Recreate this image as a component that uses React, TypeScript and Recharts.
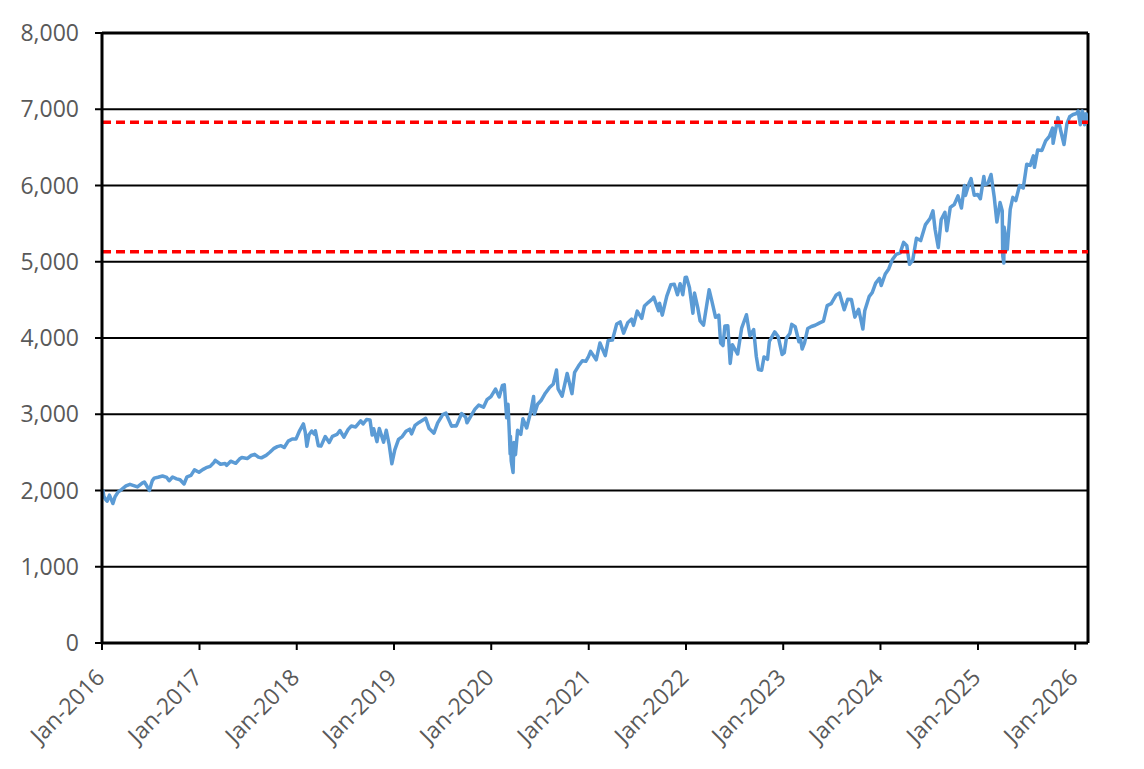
import { LineChart, Line, XAxis, YAxis, CartesianGrid, ReferenceLine } from 'recharts';

// approximate index closes
const dates = [
  '2016-01-04', '2016-01-08', '2016-01-15', '2016-01-20', '2016-01-29', '2016-02-11', '2016-02-19', '2016-03-01', '2016-03-15', '2016-03-31', '2016-04-15', '2016-04-29', '2016-05-13', '2016-05-31', '2016-06-08', '2016-06-15', '2016-06-27', '2016-07-08', '2016-07-15', '2016-07-29', '2016-08-15', '2016-08-31', '2016-09-09', '2016-09-22', '2016-10-07', '2016-10-20', '2016-11-04', '2016-11-15', '2016-11-30', '2016-12-13', '2016-12-30',
  '2017-01-13', '2017-01-26', '2017-02-10', '2017-02-24', '2017-03-01', '2017-03-21', '2017-04-07', '2017-04-13', '2017-04-28', '2017-05-17', '2017-05-31', '2017-06-09', '2017-06-29', '2017-07-14', '2017-07-27', '2017-08-10', '2017-08-21', '2017-09-08', '2017-09-22', '2017-10-06', '2017-10-20', '2017-11-03', '2017-11-15', '2017-11-30', '2017-12-15', '2017-12-29',
  '2018-01-12', '2018-01-26', '2018-02-02', '2018-02-08', '2018-02-16', '2018-02-26', '2018-03-08', '2018-03-12', '2018-03-23', '2018-04-02', '2018-04-18', '2018-05-03', '2018-05-15', '2018-06-01', '2018-06-12', '2018-06-27', '2018-07-13', '2018-07-25', '2018-08-10', '2018-08-29', '2018-09-07', '2018-09-20', '2018-10-03', '2018-10-11', '2018-10-17', '2018-10-29', '2018-11-07', '2018-11-23', '2018-12-03', '2018-12-14', '2018-12-24',
  '2019-01-04', '2019-01-18', '2019-02-01', '2019-02-15', '2019-03-01', '2019-03-08', '2019-03-21', '2019-04-05', '2019-04-30', '2019-05-13', '2019-05-31', '2019-06-14', '2019-07-03', '2019-07-15', '2019-08-05', '2019-08-15', '2019-08-23', '2019-09-12', '2019-09-27', '2019-10-02', '2019-10-18', '2019-11-01', '2019-11-15', '2019-12-03', '2019-12-16', '2019-12-31',
  '2020-01-17', '2020-01-31', '2020-02-12', '2020-02-19', '2020-02-28', '2020-03-04', '2020-03-09', '2020-03-12', '2020-03-13', '2020-03-16', '2020-03-23', '2020-03-26', '2020-04-01', '2020-04-09', '2020-04-21', '2020-04-29', '2020-05-13', '2020-05-29', '2020-06-08', '2020-06-11', '2020-06-23', '2020-07-06', '2020-07-22', '2020-08-07', '2020-08-21', '2020-09-02', '2020-09-08', '2020-09-23', '2020-10-12', '2020-10-30', '2020-11-09', '2020-11-24', '2020-12-08', '2020-12-21', '2020-12-31',
  '2021-01-08', '2021-01-29', '2021-02-12', '2021-03-04', '2021-03-15', '2021-03-31', '2021-04-16', '2021-04-29', '2021-05-12', '2021-05-28', '2021-06-11', '2021-06-18', '2021-07-02', '2021-07-19', '2021-07-29', '2021-08-13', '2021-08-27', '2021-09-02', '2021-09-20', '2021-09-24', '2021-10-04', '2021-10-21', '2021-11-05', '2021-11-18', '2021-11-30', '2021-12-10', '2021-12-20', '2021-12-29',
  '2022-01-03', '2022-01-14', '2022-01-27', '2022-02-02', '2022-02-14', '2022-02-23', '2022-03-08', '2022-03-29', '2022-04-08', '2022-04-22', '2022-05-04', '2022-05-11', '2022-05-20', '2022-05-27', '2022-06-07', '2022-06-16', '2022-06-24', '2022-07-14', '2022-07-29', '2022-08-16', '2022-08-29', '2022-09-12', '2022-09-22', '2022-09-30', '2022-10-12', '2022-10-21', '2022-11-03', '2022-11-10', '2022-11-30', '2022-12-13', '2022-12-28',
  '2023-01-05', '2023-01-13', '2023-01-26', '2023-02-02', '2023-02-15', '2023-03-01', '2023-03-07', '2023-03-13', '2023-03-22', '2023-04-03', '2023-04-17', '2023-05-01', '2023-05-18', '2023-06-01', '2023-06-15', '2023-06-30', '2023-07-19', '2023-07-31', '2023-08-18', '2023-08-31', '2023-09-14', '2023-09-27', '2023-10-11', '2023-10-27', '2023-11-03', '2023-11-20', '2023-12-01', '2023-12-14', '2023-12-28',
  '2024-01-04', '2024-01-19', '2024-02-01', '2024-02-15', '2024-02-29', '2024-03-15', '2024-03-28', '2024-04-09', '2024-04-19', '2024-05-01', '2024-05-15', '2024-05-31', '2024-06-18', '2024-07-05', '2024-07-16', '2024-07-24', '2024-08-05', '2024-08-16', '2024-08-30', '2024-09-06', '2024-09-19', '2024-10-04', '2024-10-18', '2024-10-31', '2024-11-11', '2024-11-15', '2024-11-29', '2024-12-06', '2024-12-18', '2024-12-31',
  '2025-01-10', '2025-01-23', '2025-01-27', '2025-02-07', '2025-02-19', '2025-03-03', '2025-03-13', '2025-03-25', '2025-04-02', '2025-04-04', '2025-04-08', '2025-04-09', '2025-04-21', '2025-05-02', '2025-05-12', '2025-05-23', '2025-06-06', '2025-06-20', '2025-07-03', '2025-07-16', '2025-07-28', '2025-08-01', '2025-08-13', '2025-08-29', '2025-09-12', '2025-09-26', '2025-10-08', '2025-10-10', '2025-10-28', '2025-11-07', '2025-11-20', '2025-12-01', '2025-12-11', '2025-12-24',
  '2026-01-06', '2026-01-12', '2026-01-20', '2026-01-27', '2026-02-03', '2026-02-05', '2026-02-11', '2026-02-18',
];

const closes = [
  2012, 1922, 1880, 1859, 1940, 1829, 1918, 1978, 2015, 2060, 2081, 2065, 2047, 2097, 2112, 2072, 2001, 2130, 2162, 2174, 2190, 2171, 2128, 2177, 2153, 2141, 2085, 2180, 2199, 2271, 2239,
  2274, 2299, 2316, 2367, 2396, 2344, 2355, 2329, 2384, 2357, 2412, 2432, 2419, 2459, 2475, 2438, 2428, 2461, 2502, 2549, 2575, 2588, 2564, 2648, 2676, 2674,
  2786, 2873, 2762, 2581, 2732, 2780, 2738, 2784, 2588, 2582, 2708, 2630, 2711, 2735, 2787, 2699, 2801, 2846, 2833, 2914, 2872, 2931, 2925, 2728, 2809, 2641, 2814, 2633, 2790, 2600, 2351,
  2532, 2671, 2707, 2776, 2804, 2743, 2855, 2893, 2946, 2812, 2752, 2887, 2996, 3014, 2844, 2848, 2847, 3009, 2962, 2888, 2986, 3067, 3120, 3093, 3191, 3231,
  3330, 3226, 3379, 3386, 2954, 3130, 2747, 2481, 2711, 2386, 2237, 2630, 2470, 2790, 2737, 2940, 2820, 3044, 3232, 3002, 3131, 3180, 3276, 3351, 3397, 3580, 3332, 3237, 3535, 3270, 3550, 3635, 3702, 3694, 3756,
  3825, 3714, 3934, 3768, 3968, 3973, 4185, 4211, 4063, 4204, 4247, 4166, 4352, 4258, 4419, 4468, 4509, 4537, 4358, 4455, 4300, 4549, 4697, 4704, 4567, 4712, 4568, 4793,
  4797, 4663, 4326, 4589, 4401, 4225, 4170, 4632, 4488, 4272, 4300, 3935, 3901, 4158, 4160, 3667, 3912, 3790, 4130, 4305, 4030, 4110, 3758, 3586, 3577, 3752, 3720, 3956, 4080, 4019, 3783,
  3808, 3999, 4060, 4179, 4148, 3951, 3986, 3855, 3937, 4124, 4151, 4167, 4198, 4221, 4425, 4450, 4565, 4589, 4370, 4508, 4505, 4274, 4377, 4117, 4358, 4547, 4595, 4719, 4783,
  4688, 4840, 4906, 5030, 5096, 5117, 5254, 5209, 4967, 5018, 5308, 5278, 5487, 5567, 5667, 5427, 5186, 5554, 5648, 5408, 5713, 5751, 5864, 5705, 6001, 5870, 6032, 6090, 5872, 5882,
  5827, 6119, 6012, 6026, 6144, 5849, 5522, 5776, 5671, 5074, 4983, 5457, 5158, 5687, 5844, 5803, 6000, 5967, 6279, 6264, 6389, 6238, 6466, 6460, 6584, 6644, 6753, 6553, 6890, 6728, 6538, 6812, 6901, 6932,
  6944, 6977, 6797, 6978, 6918, 6798, 6941, 6843,
];

const tickDates = ['2016-01-01', '2017-01-01', '2018-01-01', '2019-01-01', '2020-01-01', '2021-01-01', '2022-01-01', '2023-01-01', '2024-01-01', '2025-01-01', '2026-01-01'];
const yTicks = [0, 1000, 2000, 3000, 4000, 5000, 6000, 7000, 8000];
const levels = [6830, 5130];
const monthNames = ['Jan', 'Feb', 'Mar', 'Apr', 'May', 'Jun', 'Jul', 'Aug', 'Sep', 'Oct', 'Nov', 'Dec'];

const xStart = Date.parse('2016-01-01');
const xEnd = Date.parse('2026-02-18');

const data = dates.map((d, i) => ({ t: Date.parse(d), v: closes[i] }));
const xTicks = tickDates.map((d) => Date.parse(d));

const font = '"Open Sans", sans-serif';
const labelColor = '#595959';

const DateTick = (props: any) => {
  const { x, y, payload } = props;
  const d = new Date(payload.value);
  const label = `${monthNames[d.getUTCMonth()]}-${d.getUTCFullYear()}`;
  return (
    <text
      transform={`translate(${x + 4},${y + 27}) rotate(-45)`}
      textAnchor="end"
      fill={labelColor}
      fontSize={23}
      fontFamily={font}
    >
      {label}
    </text>
  );
};

export default function App() {
  return (
    <div style={{ width: 1144, height: 769, background: '#fff' }}>
      <style>{'body{margin:0}'}</style>
      <LineChart width={1144} height={769} data={data} margin={{ top: 33, right: 56, bottom: 0, left: 12 }}>
        <CartesianGrid vertical={false} stroke="#000" strokeWidth={2} />
        <XAxis
          dataKey="t"
          type="number"
          scale="time"
          domain={[xStart, xEnd]}
          ticks={xTicks}
          tick={<DateTick />}
          interval={0}
          height={126}
          axisLine={{ stroke: '#000', strokeWidth: 3 }}
          tickLine={{ stroke: '#000', strokeWidth: 2 }}
          tickSize={7}
          tickMargin={2}
          allowDataOverflow
        />
        <YAxis
          domain={[0, 8000]}
          ticks={yTicks}
          width={90}
          interval={0}
          tickFormatter={(v: number) => v.toLocaleString('en-US')}
          tick={{ fill: labelColor, fontSize: 23, fontFamily: font }}
          axisLine={{ stroke: '#000', strokeWidth: 3 }}
          tickLine={{ stroke: '#000', strokeWidth: 2 }}
          tickSize={7}
          tickMargin={16}
        />
        <ReferenceLine y={8000} stroke="#000" strokeWidth={3} />
        <ReferenceLine x={xEnd} stroke="#000" strokeWidth={3} />
        <Line
          type="linear"
          dataKey="v"
          stroke="#5B9BD5"
          strokeWidth={3.5}
          dot={false}
          strokeLinejoin="round"
          isAnimationActive={false}
        />
        {levels.map((lv) => (
          <ReferenceLine key={lv} y={lv} stroke="#FF0000" strokeWidth={3.5} strokeDasharray="9 5" />
        ))}
      </LineChart>
    </div>
  );
}
